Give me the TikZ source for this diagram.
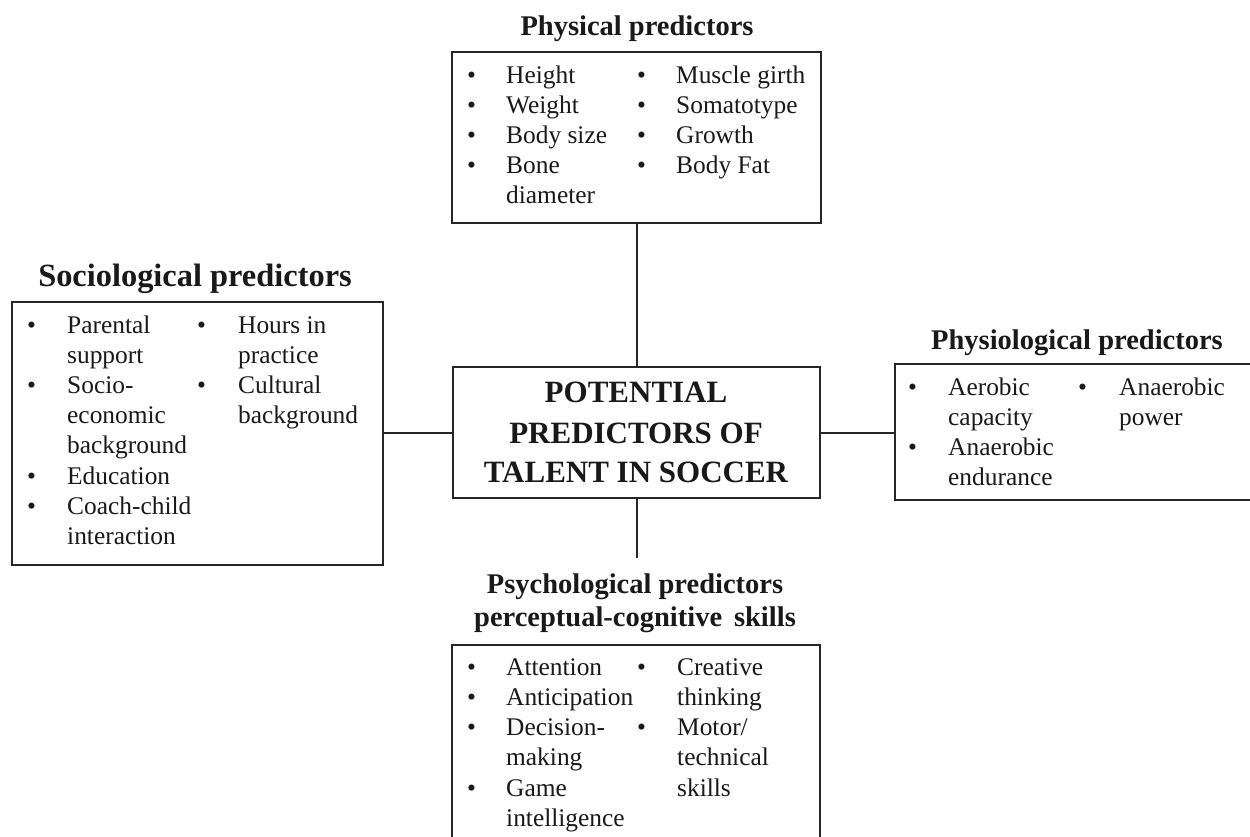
\documentclass[tikz,border=0pt]{standalone}
\usepackage{fontspec}
\setmainfont{Liberation Serif}
\begin{document}
\begin{tikzpicture}[x=1pt,y=-1pt,
  box/.style={draw=black!85, line width=2pt, rectangle, inner sep=0pt, outer sep=0pt},
  conn/.style={draw=black!85, line width=2pt},
  item/.style={anchor=base west, inner sep=0pt, text=black!90, font=\fontsize{25.4}{30}\selectfont},
  ttl/.style={anchor=base, inner sep=0pt, text=black!90, font=\fontsize{28.5}{32}\selectfont\bfseries},
  bigttl/.style={anchor=base, inner sep=0pt, text=black!90, font=\fontsize{32.4}{36}\selectfont\bfseries},
  ctext/.style={anchor=base, inner sep=0pt, text=black!90, font=\fontsize{31}{40}\selectfont\bfseries}]
\useasboundingbox (0,0) rectangle (1250,836);
\fill[white] (0,0) rectangle (1250,836);

% boxes
\node[box, minimum width=369pt, minimum height=171pt] (phys) at (636.5,137.5) {};
\node[box, minimum width=367pt, minimum height=131pt] (center) at (636.5,432.5) {};
\node[box, minimum width=371pt, minimum height=263pt] (soc) at (197.5,433.5) {};
\node[box, minimum width=365pt, minimum height=136pt] (physio) at (1077.5,432) {};
\node[box, minimum width=368pt, minimum height=205pt] (psych) at (636,747.5) {};

% connectors
\coordinate (bend) at (636.5,558);
\draw[conn] (phys.south) -- (center.north);
\draw[conn] (center.west) -- (center.west -| soc.east);
\draw[conn] (center.east) -- (center.east -| physio.west);
\draw[conn] (center.south) -- (bend);

% titles
\node[ttl] (tphys) at (637,35) {Physical predictors};
\node[bigttl] (tsoc) at (195,286) {Sociological predictors};
\node[ttl] (tphysio) at (1077,349) {Physiological predictors};
\node[ttl] (tpsy1) at (635,593) {Psychological predictors};
\node[ttl] (tpsy2) at (635,626) {perceptual-cognitive\ \,skills};

% central text
\node[ctext] (c1) at (636,402) {POTENTIAL};
\node[ctext] (c2) at (636,443) {PREDICTORS OF};
\node[ctext] (c3) at (636,482) {TALENT IN SOCCER};

% physical items
\foreach \t [count=\i from 0] in {Height,Weight,Body size,Bone,diameter}
  \node[item] (pa\i) at (506,83+30*\i) {\t};
\foreach \t [count=\i from 0] in {Muscle girth,Somatotype,Growth,Body Fat}
  \node[item] (pc\i) at (676,83+30*\i) {\t};
\foreach \i in {0,1,2,3} {
  \node[item] (pb\i) at (467,83+30*\i) {•};
  \node[item] (pd\i) at (637,83+30*\i) {•};
}

% sociological items
\foreach \t [count=\i from 0] in {Parental,support,Socio-,economic,background,Education,Coach-child,interaction}
  \node[item] (sa\i) at (67,333+30.2*\i) {\t};
\foreach \t [count=\i from 0] in {Hours in,practice,Cultural,background}
  \node[item] (sc\i) at (238,333+30.2*\i) {\t};
\foreach \i in {0,2,5,6}
  \node[item] (sb\i) at (27,333+30.2*\i) {•};
\foreach \i in {0,2}
  \node[item] (sd\i) at (197,333+30.2*\i) {•};

% physiological items
\foreach \t [count=\i from 0] in {Aerobic,capacity,Anaerobic,endurance}
  \node[item] (ya\i) at (948,395+30*\i) {\t};
\foreach \t [count=\i from 0] in {Anaerobic,power}
  \node[item] (yc\i) at (1119,395+30*\i) {\t};
\foreach \i in {0,2}
  \node[item] (yb\i) at (908,395+30*\i) {•};
\node[item] (yd0) at (1078,395) {•};

% psychological items
\foreach \t [count=\i from 0] in {Attention,Anticipation,Decision-,making,Game,intelligence}
  \node[item] (qa\i) at (506,675+30.3*\i) {\t};
\foreach \t [count=\i from 0] in {Creative,thinking,Motor/,technical,skills}
  \node[item] (qc\i) at (677,675+30.3*\i) {\t};
\foreach \i in {0,1,2,4}
  \node[item] (qb\i) at (467,675+30.3*\i) {•};
\foreach \i in {0,2}
  \node[item] (qd\i) at (637,675+30.3*\i) {•};
\end{tikzpicture}
\end{document}
